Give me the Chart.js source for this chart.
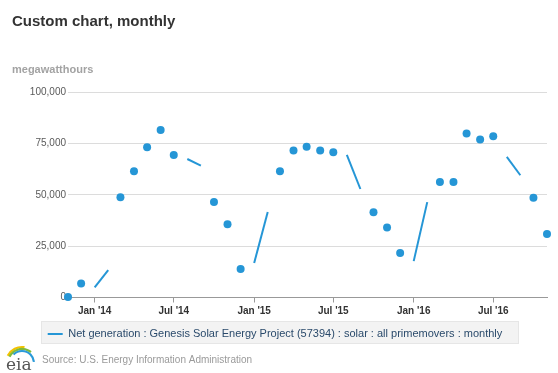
<!DOCTYPE html>
<html>
<head>
<meta charset="utf-8">
<script src="https://cdn.jsdelivr.net/npm/chart.js@4/dist/chart.umd.min.js"></script>
<style>
  html, body { margin: 0; padding: 0; background: #fff; }
  #wrap { width: 558px; height: 373px; position: relative; }
</style>
</head>
<body>
<div id="wrap"><canvas id="c" width="558" height="373"></canvas></div>
<script>
// ---- data ----
const months = ['2013-11','2013-12','2014-01','2014-02','2014-03','2014-04','2014-05','2014-06','2014-07','2014-08','2014-09','2014-10','2014-11','2014-12',
  '2015-01','2015-02','2015-03','2015-04','2015-05','2015-06','2015-07','2015-08','2015-09','2015-10','2015-11','2015-12',
  '2016-01','2016-02','2016-03','2016-04','2016-05','2016-06','2016-07','2016-08','2016-09','2016-10','2016-11'];
const netGeneration = [300, 6800, 4900, 13300, 48800, 61400, 73100, 81500, 69400, 67400, 64200, 46500, 35700, 13900,
  16800, 41600, 61400, 71500, 73300, 71500, 70700, 69400, 52800, 41500, 34100, 21700,
  17700, 46400, 56200, 56200, 79800, 76900, 78500, 68400, 59500, 48600, 30900];
// months whose value is joined by a line to the following month
const joinedToNext = ['2014-01','2014-08','2015-01','2015-08','2016-01','2016-08'];
const tickMonths = ['2014-01','2014-07','2015-01','2015-07','2016-01','2016-07'];
const tickLabels = ["Jan '14","Jul '14","Jan '15","Jul '15","Jan '16","Jul '16"];
const yTicks = [0, 25000, 50000, 75000, 100000];
const seriesName = 'Net generation : Genesis Solar Energy Project (57394) : solar : all primemovers : monthly';
const chartTitle = 'Custom chart, monthly';
const unitLabel = 'megawatthours';
const sourceText = 'Source: U.S. Energy Information Administration';

// ---- helpers ----
const dayOf = m => { const [y, mo] = m.split('-').map(Number); return Date.UTC(y, mo - 1, 1) / 86400000; };
const points = months.map((m, i) => ({ x: dayOf(m), y: netGeneration[i] }));
const isJoined = i => i >= 0 && i < months.length && joinedToNext.includes(months[i]);
const inLine = i => isJoined(i) || isJoined(i - 1);
const tickDays = tickMonths.map(dayOf);
const BLUE = '#2596d6';
const LEGEND_PAD = 8;

const decor = {
  id: 'decor',
  afterLayout(chart) {
    const lg = chart.legend;
    if (lg) { lg.left = -8; lg.right = chart.width; }
  },
  beforeDraw(chart) {
    const ctx = chart.ctx;
    ctx.save();
    // titles
    ctx.textBaseline = 'alphabetic';
    ctx.textAlign = 'left';
    ctx.fillStyle = '#333';
    ctx.font = 'bold 15px "Liberation Sans", Arial, sans-serif';
    ctx.fillText(chartTitle, 12, 26);
    ctx.fillStyle = '#a3a3a3';
    ctx.font = 'bold 11px "Liberation Sans", Arial, sans-serif';
    ctx.fillText(unitLabel, 12, 73);
    // legend background
    const lg = chart.legend;
    if (lg && lg.lineWidths) {
      const lw = lg.lineWidths[0];
      const itemStart = (lg.left + LEGEND_PAD + lg.right - lw) / 2;
      const x0 = Math.round(itemStart - 7) + 0.5;
      const w = Math.round(lw + 14);
      const y0 = Math.round(lg.top) + 0.5;
      ctx.fillStyle = '#f3f3f3';
      ctx.strokeStyle = '#e6e6e6';
      ctx.lineWidth = 1;
      ctx.fillRect(x0, y0, w, 22);
      ctx.strokeRect(x0, y0, w, 22);
    }
    // source
    ctx.fillStyle = '#9a9a9a';
    ctx.font = '10px "Liberation Sans", Arial, sans-serif';
    ctx.fillText(sourceText, 42, 363);
    // eia logo
    ctx.lineWidth = 2.2;
    ctx.lineCap = 'butt';
    const arcs = [['#f2c200', 16, 1.15, 1.55], ['#7fba3c', 14, 1.15, 1.72], ['#2a9ad8', 12, 1.25, 1.97]];
    arcs.forEach(([col, r, a0, a1]) => {
      ctx.strokeStyle = col;
      ctx.beginPath();
      ctx.arc(22, 363, r, Math.PI * a0, Math.PI * a1);
      ctx.stroke();
    });
    ctx.fillStyle = '#555';
    ctx.font = '17px "DejaVu Serif", "Liberation Serif", serif';
    ctx.fillText('eia', 6, 370);
    ctx.restore();
  }
};

new Chart(document.getElementById('c'), {
  type: 'line',
  data: {
    datasets: [{
      label: seriesName,
      data: points,
      borderColor: BLUE,
      backgroundColor: BLUE,
      borderWidth: 2,
      pointRadius: ctx => inLine(ctx.dataIndex) ? 0 : 4,
      pointHoverRadius: 4,
      pointBorderWidth: 0,
      pointBackgroundColor: BLUE,
      fill: false,
      tension: 0,
      clip: false,
      segment: {
        borderColor: ctx => isJoined(ctx.p0DataIndex) ? BLUE : 'rgba(0,0,0,0)'
      }
    }]
  },
  options: {
    responsive: false,
    animation: false,
    events: [],
    layout: { padding: { top: 92, right: 11, bottom: 23.5, left: 0 } },
    scales: {
      x: {
        type: 'linear',
        min: points[0].x,
        max: points[points.length - 1].x,
        afterBuildTicks: s => { s.ticks = tickDays.map(v => ({ value: v })); },
        ticks: {
          autoSkip: false,
          maxRotation: 0,
          padding: 3,
          color: '#333',
          font: { family: '"Liberation Sans", Arial, sans-serif', size: 10, weight: 'bold' },
          callback: v => { const i = tickDays.indexOf(v); return i >= 0 ? tickLabels[i] : ''; }
        },
        grid: { drawOnChartArea: false, drawTicks: true, tickLength: 5, color: '#999', lineWidth: 1 },
        border: { display: true, color: '#999', width: 1 }
      },
      y: {
        min: 0,
        max: 100000,
        afterBuildTicks: s => { s.ticks = yTicks.map(v => ({ value: v })); },
        afterFit: s => { s.width = 68; },
        ticks: {
          padding: 2,
          color: '#5a5a5a',
          font: { family: '"Liberation Sans", Arial, sans-serif', size: 10 },
          callback: v => v.toLocaleString('en-US')
        },
        grid: { drawTicks: false, color: '#dcdcdc', lineWidth: 1 },
        border: { display: false }
      }
    },
    plugins: {
      title: { display: false },
      tooltip: { enabled: false },
      legend: {
        display: true,
        position: 'bottom',
        labels: {
          usePointStyle: true,
          pointStyleWidth: 15,
          padding: LEGEND_PAD,
          color: '#2a4a6b',
          font: { family: '"Liberation Sans", Arial, sans-serif', size: 11 },
          generateLabels: chart => chart.data.datasets.map((ds, i) => ({
            text: ds.label,
            datasetIndex: i,
            pointStyle: 'line',
            strokeStyle: BLUE,
            fillStyle: BLUE,
            lineWidth: 2,
            hidden: false,
            fontColor: '#2a4a6b'
          }))
        }
      }
    }
  },
  plugins: [decor]
});
</script>
</body>
</html>
